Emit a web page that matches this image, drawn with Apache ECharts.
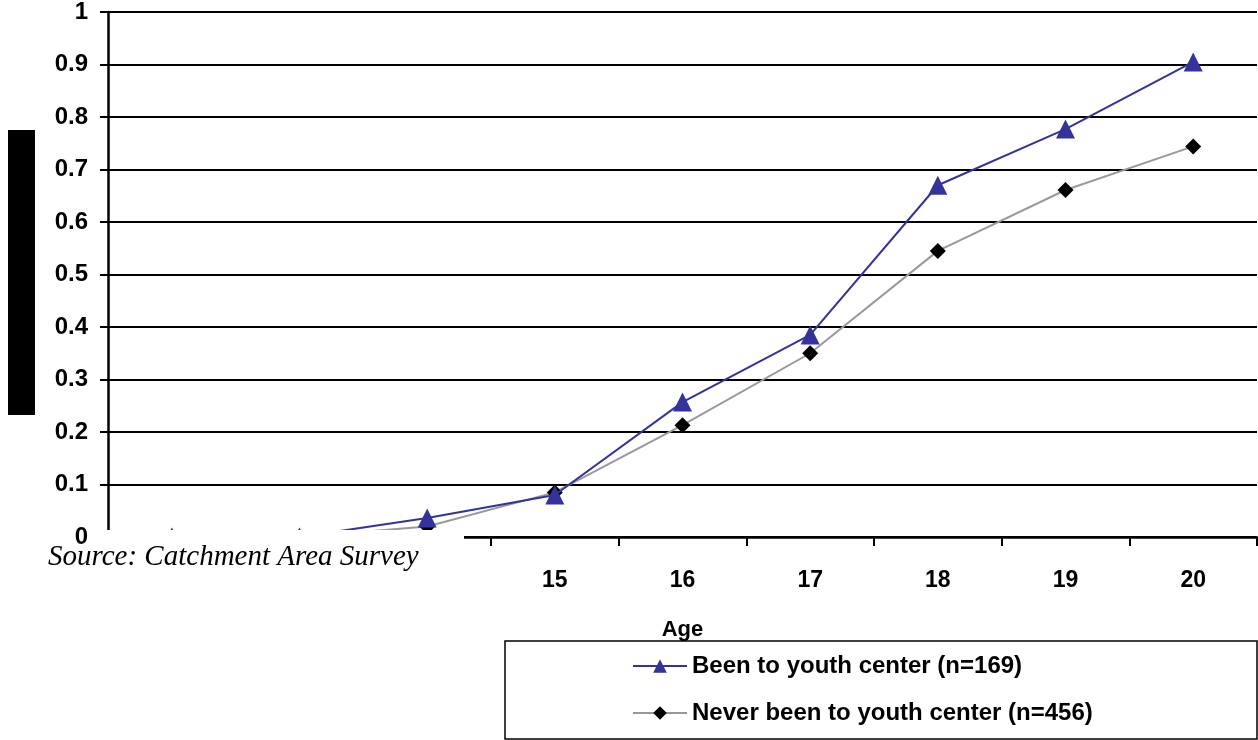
<!DOCTYPE html>
<html>
<head>
<meta charset="utf-8">
<script src="https://cdn.jsdelivr.net/npm/echarts@6/dist/echarts.min.js"></script>
<style>
  html, body { margin: 0; padding: 0; background: #fff; }
  #main { width: 1258px; height: 740px; }
</style>
</head>
<body>
<div id="main"></div>
<script type="text/javascript">
// ages on the x axis (12-14 are hidden behind the source box)
var ages = ['12', '13', '14', '15', '16', '17', '18', '19', '20'];
// share of respondents
var beenTo = [0, 0, 0.036, 0.08, 0.257, 0.385, 0.67, 0.777, 0.905];
var neverBeen = [0, 0, 0.02, 0.085, 0.213, 0.35, 0.545, 0.661, 0.744];
var yTicks = ['0', '0.1', '0.2', '0.3', '0.4', '0.5', '0.6', '0.7', '0.8', '0.9', '1'];

var myChart = echarts.init(document.getElementById('main'));

var boldFont = 'Liberation Sans, Arial, sans-serif';

var option = {
    animation: false,
    backgroundColor: '#fff',
    grid: {
        left: 108,
        right: 1,
        top: 12,
        bottom: 203,
        containLabel: false
    },
    xAxis: {
        type: 'category',
        data: ages,
        boundaryGap: true,
        name: 'Age',
        nameLocation: 'middle',
        nameGap: 82,
        nameTextStyle: { color: '#000', fontFamily: boldFont, fontWeight: 'bold', fontSize: 22 },
        axisLine: { lineStyle: { color: '#000', width: 2.5 } },
        axisTick: { show: true, length: 9, lineStyle: { color: '#000', width: 2 } },
        axisLabel: {
            color: '#000', fontFamily: boldFont, fontWeight: 'bold', fontSize: 23, margin: 32
        },
        splitLine: { show: false }
    },
    yAxis: {
        type: 'value',
        min: 0,
        max: 1,
        interval: 0.1,
        axisLine: { show: true, lineStyle: { color: '#000', width: 2.5 } },
        axisTick: { show: true, length: 8, lineStyle: { color: '#000', width: 2 } },
        axisLabel: {
            color: '#000', fontFamily: boldFont, fontWeight: 'bold', fontSize: 24, margin: 20,
            formatter: function (v) {
                return yTicks[Math.round(v * 10)];
            }
        },
        splitLine: { show: true, lineStyle: { color: '#000', width: 2 } }
    },
    legend: {
        orient: 'vertical',
        left: 632,
        top: 654,
        padding: 0,
        itemWidth: 54,
        itemHeight: 17,
        itemGap: 23,
        textStyle: { color: '#000', fontFamily: boldFont, fontWeight: 'bold', fontSize: 24 },
        data: ['Been to youth center (n=169)', 'Never been to youth center (n=456)']
    },
    series: [
        {
            name: 'Never been to youth center (n=456)',
            type: 'line',
            data: neverBeen,
            symbol: 'diamond',
            symbolSize: 16,
            itemStyle: { color: '#000' },
            lineStyle: { color: '#999999', width: 2 },
            z: 3
        },
        {
            name: 'Been to youth center (n=169)',
            type: 'line',
            data: beenTo,
            symbol: 'triangle',
            symbolSize: 19,
            itemStyle: { color: '#333399' },
            lineStyle: { color: '#333399', width: 2 },
            z: 4
        }
    ],
    graphic: [
        // white box with source text that covers the lower left corner
        {
            type: 'rect', z: 100,
            shape: { x: 92, y: 530, width: 372, height: 72 },
            style: { fill: '#fff' }
        },
        {
            type: 'text', z: 101, left: 48, top: 543,
            style: {
                text: 'Source: Catchment Area Survey',
                fill: '#000',
                font: 'italic 29px "Liberation Serif", "Times New Roman", serif'
            }
        },
        // blacked out axis title
        {
            type: 'rect', z: 100,
            shape: { x: 8, y: 130, width: 27, height: 285 },
            style: { fill: '#000' }
        },
        // legend frame
        {
            type: 'rect', z: 100,
            shape: { x: 505, y: 641, width: 752, height: 98 },
            style: { fill: 'none', stroke: '#000', lineWidth: 1.5 }
        }
    ]
};

myChart.setOption(option);
</script>
</body>
</html>
